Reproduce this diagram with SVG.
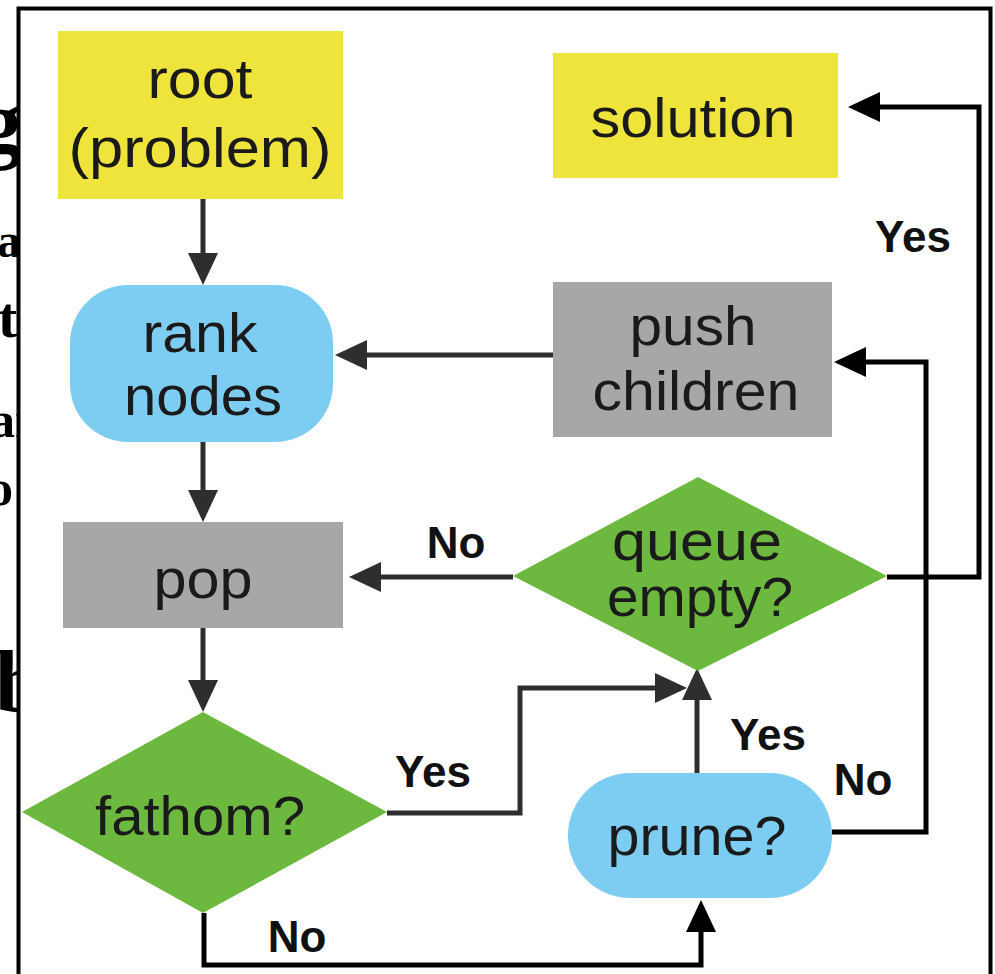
<svg xmlns="http://www.w3.org/2000/svg" width="995" height="974" viewBox="0 0 995 974">
<defs>
<style>
.bg{fill:#ffffff}
.frag{font-family:"Liberation Serif",serif;font-weight:bold;fill:#000}
.yellow{fill:#EFE43C}
.blue{fill:#7DCDF2}
.gray{fill:#A6A8A7}
.green{fill:#6DB940}
.nt{font-family:"Liberation Sans",Arial,sans-serif;font-size:55px;fill:#1a1a1a;text-anchor:middle}
.lbl{font-family:"Liberation Sans",Arial,sans-serif;font-size:44px;font-weight:bold;fill:#111;text-anchor:middle}
.c{fill:none;stroke:#2e2e2e;stroke-width:5}
.ck{fill:none;stroke:#000;stroke-width:5}
</style>
<marker id="ah" markerUnits="userSpaceOnUse" markerWidth="32" markerHeight="30" refX="26" refY="15" orient="auto">
<path d="M0,0 L32,15 L0,30 z" fill="#2e2e2e"/>
</marker>
<marker id="ahk" markerUnits="userSpaceOnUse" markerWidth="32" markerHeight="30" refX="26" refY="15" orient="auto">
<path d="M0,0 L32,15 L0,30 z" fill="#000"/>
</marker>
</defs>
<rect class="bg" x="0" y="0" width="995" height="974"/>
<g id="background-fragments">
<text class="frag" x="-22" y="152" font-size="88">g</text>
<text class="frag" x="-3" y="257" font-size="48">a</text>
<text class="frag" x="-2" y="337" font-size="58" font-weight="normal">t</text>
<text class="frag" x="-10" y="437" font-size="50">ar</text>
<text class="frag" x="-12" y="505" font-size="50">o</text>
<text class="frag" x="-5" y="712" font-size="88">b</text>
</g>
<rect class="bg" x="20" y="10" width="969" height="970"/>
<rect x="18.5" y="8.5" width="972" height="1000" fill="none" stroke="#000" stroke-width="4"/>
<g id="connectors">
<path class="c" d="M203,199 V279" marker-end="url(#ah)"/>
<path class="c" d="M203,442 V516" marker-end="url(#ah)"/>
<path class="c" d="M203,628 V706" marker-end="url(#ah)"/>
<path class="c" d="M553,355 H341" marker-end="url(#ah)"/>
<path class="c" d="M513,577 H355" marker-end="url(#ah)"/>
<path class="ck" d="M887,577 H979 V107 H854" marker-end="url(#ahk)"/>
<path class="c" d="M387,813 H520 V688 H681" marker-end="url(#ah)"/>
<path class="c" d="M697,773 V674" marker-end="url(#ah)"/>
<path class="ck" d="M204,913 V965 H701 V906" marker-end="url(#ahk)"/>
<path class="ck" d="M832,832 H926 V362 H840" marker-end="url(#ahk)"/>
</g>
<g id="root">
<rect class="yellow" x="58" y="31" width="285" height="168"/>
<text class="nt" x="200" y="98" textLength="105" lengthAdjust="spacingAndGlyphs">root</text>
<text class="nt" x="200" y="167" textLength="263" lengthAdjust="spacingAndGlyphs">(problem)</text>
</g>
<g id="solution">
<rect class="yellow" x="553" y="53" width="285" height="125"/>
<text class="nt" x="693" y="137" textLength="205" lengthAdjust="spacingAndGlyphs">solution</text>
</g>
<g id="rank-nodes">
<rect class="blue" x="70" y="285" width="263" height="157" rx="58" ry="58"/>
<text class="nt" x="200" y="352" textLength="115" lengthAdjust="spacingAndGlyphs">rank</text>
<text class="nt" x="203" y="415" textLength="158" lengthAdjust="spacingAndGlyphs">nodes</text>
</g>
<g id="push-children">
<rect class="gray" x="553" y="282" width="279" height="155"/>
<text class="nt" x="693" y="345" textLength="127" lengthAdjust="spacingAndGlyphs">push</text>
<text class="nt" x="696" y="410" textLength="207" lengthAdjust="spacingAndGlyphs">children</text>
</g>
<g id="pop">
<rect class="gray" x="63" y="522" width="280" height="106"/>
<text class="nt" x="203" y="598" textLength="99" lengthAdjust="spacingAndGlyphs">pop</text>
</g>
<g id="queue-empty">
<polygon class="green" points="698,477 887,576 698,671 513,576"/>
<text class="nt" x="697" y="560" textLength="170" lengthAdjust="spacingAndGlyphs">queue</text>
<text class="nt" x="700" y="616" textLength="186" lengthAdjust="spacingAndGlyphs">empty?</text>
</g>
<g id="fathom">
<polygon class="green" points="203,712 387,812 203,913 22,812"/>
<text class="nt" x="200" y="835" textLength="210" lengthAdjust="spacingAndGlyphs">fathom?</text>
</g>
<g id="prune">
<rect class="blue" x="568" y="773" width="264" height="125" rx="62" ry="62"/>
<text class="nt" x="697" y="855" textLength="179" lengthAdjust="spacingAndGlyphs">prune?</text>
</g>
<g id="labels">
<text class="lbl" x="913" y="252">Yes</text>
<text class="lbl" x="456" y="558">No</text>
<text class="lbl" x="433" y="787">Yes</text>
<text class="lbl" x="297" y="952">No</text>
<text class="lbl" x="768" y="750">Yes</text>
<text class="lbl" x="863" y="795">No</text>
</g>
</svg>
